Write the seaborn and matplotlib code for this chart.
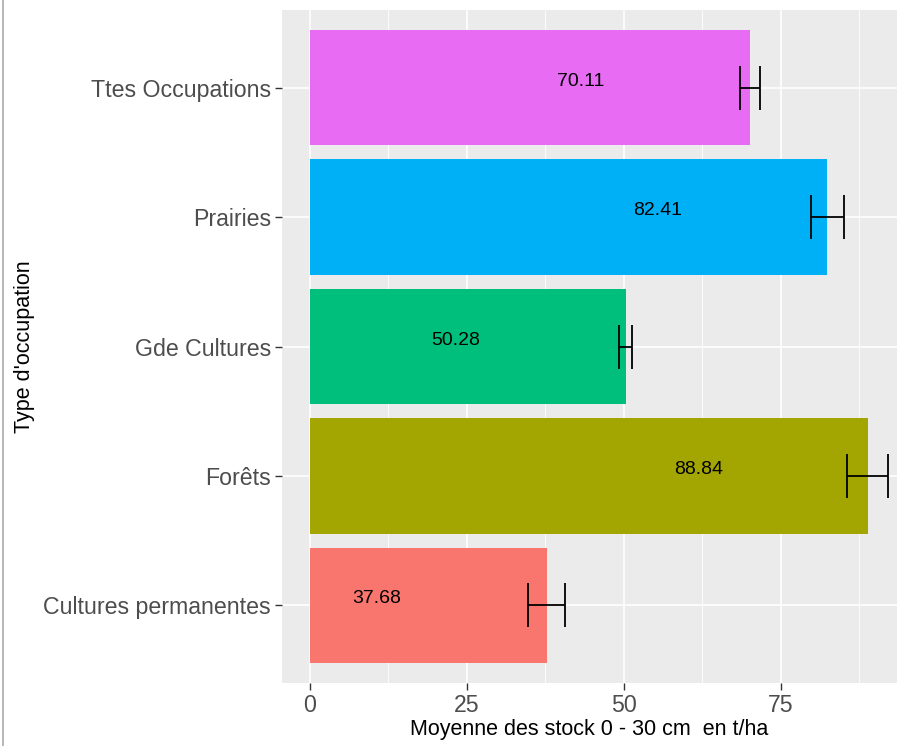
import matplotlib
matplotlib.use("Agg")
import matplotlib.pyplot as plt
from matplotlib.lines import Line2D
from matplotlib.ticker import MultipleLocator
import seaborn as sns
import pandas as pd

occupations = ["Ttes Occupations", "Prairies", "Gde Cultures", "Forêts", "Cultures permanentes"]
stock_means = [70.11, 82.41, 50.28, 88.84, 37.68]
stock_errors = [1.6, 2.6, 1.0, 3.3, 3.0]
bar_colors = ["#E76BF3", "#00B0F6", "#00BF7D", "#A3A500", "#F8766D"]

df = pd.DataFrame({"occupation": occupations, "stock": stock_means, "err": stock_errors})

sns.set_theme(style="darkgrid")
plt.rcParams["font.family"] = ["Liberation Sans", "DejaVu Sans"]

fig = plt.figure(figsize=(8.97, 7.46), dpi=100)
ax = fig.add_axes([282 / 897, (746 - 683) / 746, (897 - 282) / 897, 673 / 746])
ax.set_facecolor("#EBEBEB")

sns.barplot(data=df, x="stock", y="occupation", hue="occupation",
            palette=bar_colors, orient="h", width=0.89, saturation=1,
            legend=False, errorbar=None, ax=ax, zorder=2, linewidth=0)

ypos = list(range(len(occupations)))
ax.errorbar(df["stock"], ypos, xerr=df["err"], fmt="none", ecolor="black",
            elinewidth=1.3, capsize=16, capthick=1.3, zorder=3)

for y, v in zip(ypos, stock_means):
    ax.text(v - 27, y - 0.05, f"{v:.2f}", ha="center", va="center",
            fontsize=14, color="black", zorder=4)

ax.set_xlim(-4.46, 93.5)
ax.set_ylim(len(occupations) - 0.4, -0.6)
ax.xaxis.set_major_locator(MultipleLocator(25))
ax.xaxis.set_minor_locator(MultipleLocator(12.5))
ax.grid(which="major", color="white", linewidth=1.2)
ax.grid(which="minor", axis="x", color="white", linewidth=0.6)
ax.set_axisbelow(True)
for s in ax.spines.values():
    s.set_visible(False)

ax.tick_params(axis="both", which="major", length=5, width=1, color="#333333",
               labelcolor="#4D4D4D", labelsize=16.7, pad=3, bottom=True, left=True)
ax.tick_params(axis="x", which="minor", length=0)

ax.set_xlabel("Moyenne des stock 0 - 30 cm  en t/ha", fontsize=15.5, color="black", labelpad=1)
ax.set_ylabel("Type d'occupation", fontsize=15.5, color="black", labelpad=6)

fig.add_artist(Line2D([3 / 897, 3 / 897], [0, 1], color="#AAAAAA", linewidth=1.2))

fig.savefig("out.png", dpi=100)
